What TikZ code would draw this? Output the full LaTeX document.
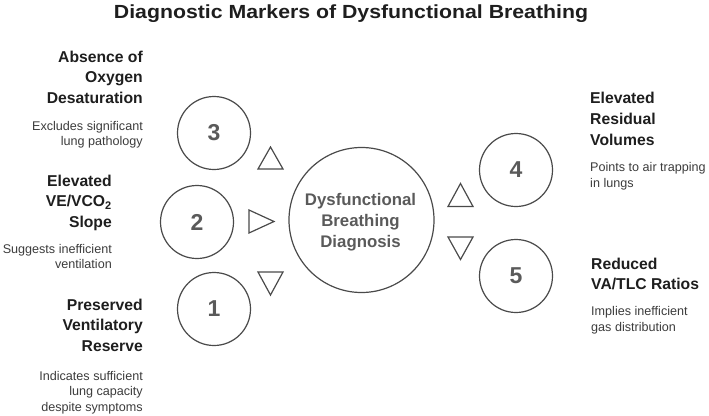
\documentclass[tikz,border=0pt]{standalone}
\usepackage{fontspec}
\setmainfont{Liberation Sans}
\newfontfamily\titlefont{Liberation Sans}[FakeStretch=1.12]
\definecolor{ink}{HTML}{1E1E1E}
\definecolor{desc}{HTML}{3C3C3C}
\definecolor{stroke}{HTML}{4A4A4A}
\definecolor{numgray}{HTML}{5A5A5A}
\begin{document}
\begin{tikzpicture}[x=1pt,y=-1pt,
  titlest/.style={inner sep=0pt, anchor=base, text=ink, font=\titlefont\bfseries\fontsize{19}{23}\selectfont},
  lab/.style={inner sep=0pt, text=ink, font=\bfseries\fontsize{15.7}{20.6}\selectfont},
  dsc/.style={inner sep=0pt, text=desc, font=\fontsize{12.6}{15.3}\selectfont},
  numcirc/.style={circle, draw=stroke, line width=1.2pt, minimum size=73pt, inner sep=0pt, text=numgray, font=\bfseries\fontsize{23}{27}\selectfont},
  bigcirc/.style={circle, draw=stroke, line width=1.2pt, minimum size=145pt, inner sep=0pt},
  ctext/.style={inner sep=0pt, align=center, anchor=base, text=numgray, font=\bfseries\fontsize{16.8}{21}\selectfont},
  tri/.style={draw=stroke, line width=1.2pt, line join=miter}
]
\useasboundingbox (0,0) rectangle (709,415);

\node[titlest] (title) at (351,18.5) {Diagnostic Markers of Dysfunctional Breathing};

% circles
\node[numcirc] (c3) at (214,133) {3};
\node[numcirc] (c2) at (197,222) {2};
\node[numcirc] (c1) at (214,309) {1};
\node[numcirc] (c4) at (516,170) {4};
\node[numcirc] (c5) at (516,276) {5};
\node[bigcirc] (cc) at (361.5,220) {};
\node[ctext] (ct) at (360.5,247.7) {Dysfunctional\\Breathing\\Diagnosis};

% triangles
\draw[tri] (258,169) -- (283,169) -- (270.5,147) -- cycle;
\draw[tri] (249,210) -- (249,233) -- (274,221.5) -- cycle;
\draw[tri] (258,272) -- (283,272) -- (270.5,295) -- cycle;
\draw[tri] (448,206.5) -- (473,206.5) -- (460.5,183.5) -- cycle;
\draw[tri] (448,237) -- (473,237) -- (460.5,259.5) -- cycle;

% left labels (anchor = baseline of last line)
\node[lab, align=right, anchor=base east] (l3) at (143,103.2) {Absence of\\Oxygen\\Desaturation};
\node[dsc, align=right, anchor=base east] (d3) at (143,145.6) {Excludes significant\\lung pathology};
\node[lab, align=right, anchor=base east] (l2) at (112,227.2) {Elevated\\VE/VCO\textsubscript{2}\\Slope};
\node[dsc, align=right, anchor=base east] (d2) at (112,268.8) {Suggests inefficient\\ventilation};
\node[lab, align=right, anchor=base east] (l1) at (143,351.2) {Preserved\\Ventilatory\\Reserve};
\node[dsc, align=right, anchor=base east] (d1) at (143,411.1) {Indicates sufficient\\lung capacity\\despite symptoms};

% right labels
\node[lab, align=left, anchor=base west] (r4) at (590,145) {Elevated\\Residual\\Volumes};
\node[dsc, align=left, anchor=base west] (e4) at (590,187) {Points to air trapping\\in lungs};
\node[lab, align=left, anchor=base west] (r5) at (591,289.9) {Reduced\\VA/TLC Ratios};
\node[dsc, align=left, anchor=base west] (e5) at (591,331) {Implies inefficient\\gas distribution};
\end{tikzpicture}
\end{document}
